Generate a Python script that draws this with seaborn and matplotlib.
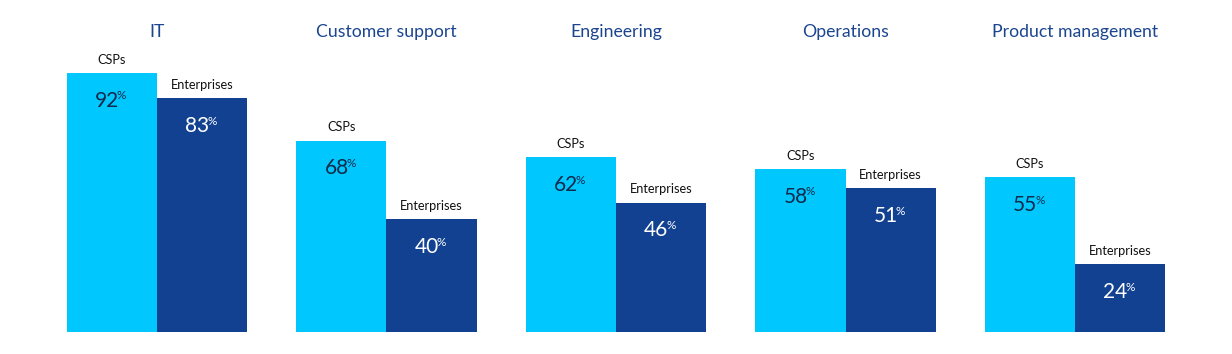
import pandas as pd
import seaborn as sns
import matplotlib.pyplot as plt

# Share of respondents per function, CSPs vs enterprises
categories = ['IT', 'Customer support', 'Engineering', 'Operations', 'Product management']
csps = [92, 68, 62, 58, 55]
enterprises = [83, 40, 46, 51, 24]
series = ['CSPs', 'Enterprises']

df = pd.DataFrame({
    'category': categories * 2,
    'value': csps + enterprises,
    'group': ['CSPs'] * len(csps) + ['Enterprises'] * len(enterprises),
})

sns.set_style('white')
plt.rcParams['font.family'] = ['Lato', 'DejaVu Sans']

fig = plt.figure(figsize=(12.32, 3.54), dpi=100)
ax = fig.add_axes([0, 22 / 354, 1, 332 / 354])

palette = {'CSPs': '#00C8FF', 'Enterprises': '#124191'}
sns.barplot(data=df, x='category', y='value', hue='group', order=categories,
            hue_order=series, palette=palette, width=0.785, saturation=1,
            legend=False, ax=ax, linewidth=0)

ax.set_xlim(-0.684, 4.684)
ax.set_ylim(0, 332 / 2.815)
ax.axis('off')

# Group titles
for i, cat in enumerate(categories):
    ax.text(i, (332 - 32) / 2.815, cat, ha='center', va='center',
            fontsize=12.7, color='#1b458f')

text_colors = {'CSPs': '#0f2a4a', 'Enterprises': 'white'}
for name, container in zip(series, ax.containers):
    for bar in container:
        cx = bar.get_x() + bar.get_width() / 2
        h = bar.get_height()
        # series label above the bar
        ax.annotate(name, (cx, h), xytext=(0, 9.5), textcoords='offset points',
                    ha='center', va='center', fontsize=9.2, color='#111111')
        # value inside, with a small superscript percent sign
        ax.annotate(f'{h:.0f}', (cx, h), xytext=(-3.5, -20), textcoords='offset points',
                    ha='center', va='center', fontsize=15, color=text_colors[name])
        ax.annotate('%', (cx, h), xytext=(7, -16.5), textcoords='offset points',
                    ha='center', va='center', fontsize=8.5, color=text_colors[name])

fig.savefig('out.png', dpi=100)
